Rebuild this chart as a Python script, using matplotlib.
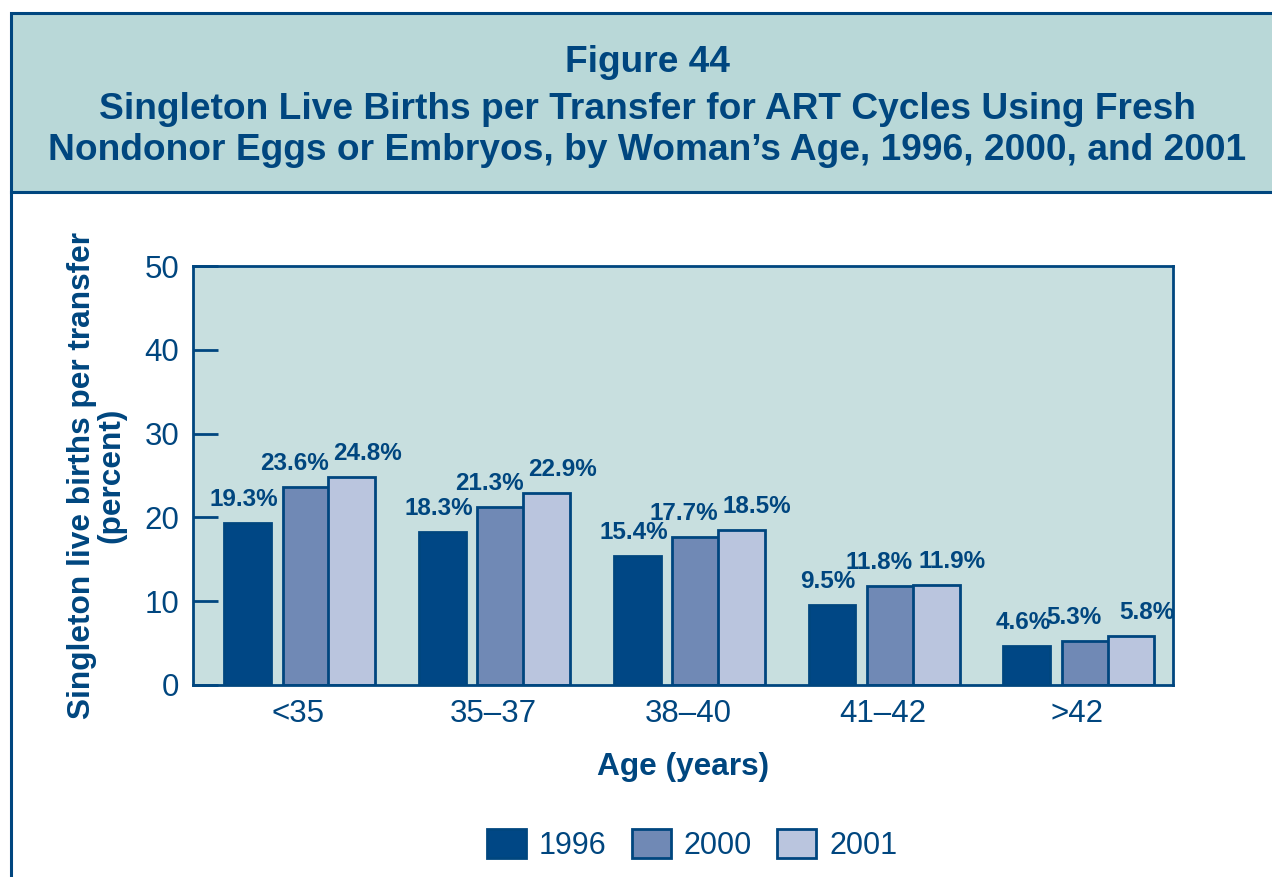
import numpy as np
import matplotlib.pyplot as plt
from matplotlib.patches import Rectangle

plt.rcParams['font.family'] = ['Liberation Sans', 'DejaVu Sans']

# donnees
ages = ['<35', '35–37', '38–40', '41–42', '>42']
annees = ['1996', '2000', '2001']
taux_1996 = [19.3, 18.3, 15.4, 9.5, 4.6]
taux_2000 = [23.6, 21.3, 17.7, 11.8, 5.3]
taux_2001 = [24.8, 22.9, 18.5, 11.9, 5.8]

bleu = '#00467F'
couleurs = ['#004785', '#7089B5', '#BAC5DE']
fond_titre = '#B9D8D8'
fond_graph = '#C8DFDF'

fig = plt.figure(figsize=(12.72, 8.77), dpi=100)

# cadre et bandeau du titre
fig.patches.append(Rectangle((11/1272, 1-192/877), 1.0, (192-13)/877, transform=fig.transFigure,
                             facecolor=fond_titre, edgecolor=bleu, linewidth=2.2, zorder=0))
fig.add_artist(plt.Line2D([11/1272, 11/1272], [0, 1-192/877], color=bleu, linewidth=2.2))

fig.text(0.509, 1-62/877, 'Figure 44', ha='center', va='center', fontsize=26.7, fontweight='bold', color=bleu)
fig.text(0.509, 1-130/877, 'Singleton Live Births per Transfer for ART Cycles Using Fresh\n'
         'Nondonor Eggs or Embryos, by Woman’s Age, 1996, 2000, and 2001',
         ha='center', va='center', fontsize=26.7, fontweight='bold', color=bleu, linespacing=1.2)

ax = fig.add_axes([193/1272, 1-685/877, 980/1272, 419/877])
ax.set_facecolor(fond_graph)

x = np.arange(len(ages))
decalages = [-0.26, 0.04, 0.275]
decal_etiq = [-0.02, -0.06, 0.08]   # etiquettes un peu ecartees pour ne pas se chevaucher
largeur = 0.24
for serie, dec, de, coul, nom in zip([taux_1996, taux_2000, taux_2001], decalages, decal_etiq, couleurs, annees):
    barres = ax.bar(x + dec, serie, largeur, color=coul, edgecolor=bleu, linewidth=2, label=nom, zorder=2)
    for b, v in zip(barres, serie):
        ax.text(b.get_x() + b.get_width()/2 + de, v + 2.8, f'{v}%', ha='center', va='center',
                fontsize=17.5, fontweight='bold', color=bleu)

ax.set_ylim(0, 50)
ax.set_xlim(-0.54, 4.49)
ax.set_yticks(range(0, 51, 10))
ax.set_xticks(x)
ax.set_xticklabels(ages)
ax.tick_params(axis='y', direction='in', length=18, width=2, color=bleu, labelcolor=bleu, labelsize=22.5, pad=10)
ax.tick_params(axis='x', length=0, labelcolor=bleu, labelsize=22.5, pad=10)
for s in ax.spines.values():
    s.set_color(bleu)
    s.set_linewidth(2)

ax.set_xlabel('Age (years)', fontsize=22.8, fontweight='bold', color=bleu, labelpad=17)
ax.set_ylabel('Singleton live births per transfer\n(percent)', fontsize=22.8, fontweight='bold',
              color=bleu, labelpad=13, linespacing=0.95)

fig.legend(loc='center', bbox_to_anchor=(692/1272, 1-845/877), ncol=3, frameon=False,
           fontsize=22, handlelength=1.28, handleheight=1.08, handletextpad=0.43, columnspacing=0.82,
           labelcolor=bleu)

plt.savefig('out.png', dpi=100)
